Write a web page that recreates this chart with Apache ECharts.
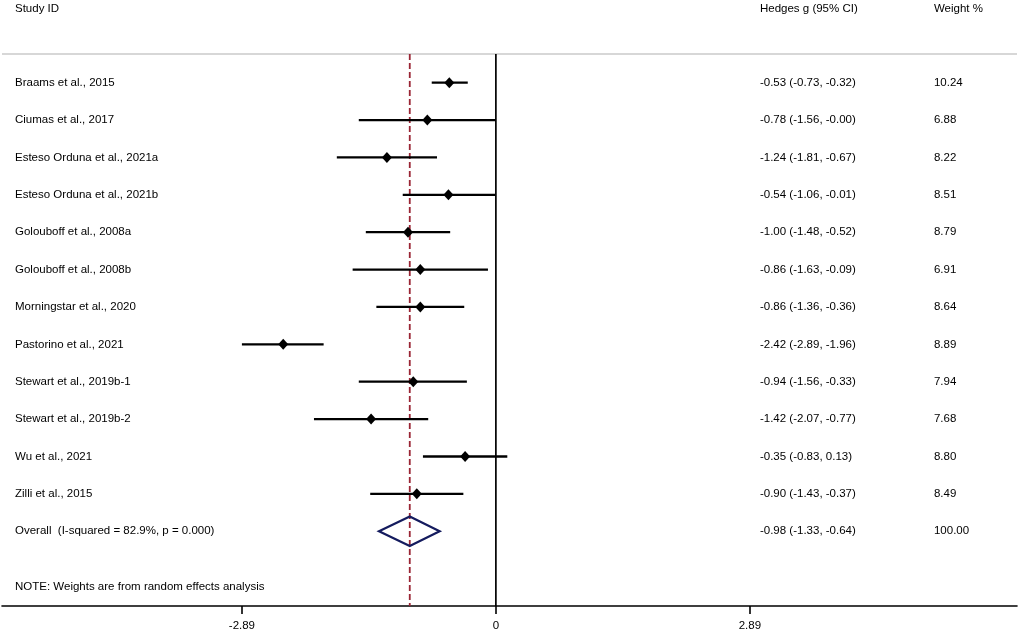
<!DOCTYPE html>
<html>
<head>
<meta charset="utf-8">
<script src="https://cdn.jsdelivr.net/npm/echarts@6/dist/echarts.min.js"></script>
<style>
html,body{margin:0;padding:0;background:#fff;}
#chart{width:1021px;height:635px;}
</style>
</head>
<body>
<div id="chart"></div>
<script>
// ---- data ----
const studies = [
  'Braams et al., 2015',
  'Ciumas et al., 2017',
  'Esteso Orduna et al., 2021a',
  'Esteso Orduna et al., 2021b',
  'Golouboff et al., 2008a',
  'Golouboff et al., 2008b',
  'Morningstar et al., 2020',
  'Pastorino et al., 2021',
  'Stewart et al., 2019b-1',
  'Stewart et al., 2019b-2',
  'Wu et al., 2021',
  'Zilli et al., 2015'
];
const effect = [-0.53, -0.78, -1.24, -0.54, -1.00, -0.86, -0.86, -2.42, -0.94, -1.42, -0.35, -0.90];
const lower  = [-0.73, -1.56, -1.81, -1.06, -1.48, -1.63, -1.36, -2.89, -1.56, -2.07, -0.83, -1.43];
const upper  = [-0.32, -0.00, -0.67, -0.01, -0.52, -0.09, -0.36, -1.96, -0.33, -0.77,  0.13, -0.37];
const weights = ['10.24', '6.88', '8.22', '8.51', '8.79', '6.91', '8.64', '8.89', '7.94', '7.68', '8.80', '8.49'];
const overallLabel = 'Overall  (I-squared = 82.9%, p = 0.000)';
const overallValues = [-0.98, -1.33, -0.64]; // estimate, lower, upper
const overallWeight = '100.00';
const noteText = 'NOTE: Weights are from random effects analysis';
const headers = ['Study ID', 'Hedges g (95% CI)', 'Weight %'];
const tickValues = [-2.89, 0, 2.89];

// ---- helpers ----
function f2(v) {
  if (Object.is(v, -0)) return '-0.00';
  return v.toFixed(2);
}
const n = studies.length;
const rows = studies.map((s, i) => i + 1);
const overallRow = n + 1;
const noteRow = n + 2.49;
const headerRow = -0.985;
const sepRow = 0.233;
const axisEndRow = 15;

const xStudy = -5.472, xCI = 3.005, xW = 4.985;
const FONT = 'Liberation Sans, Arial, Helvetica, sans-serif';
const textStyle = {show: true, position: 'right', distance: 0, color: '#000', opacity: 1, fontSize: 11.5, fontFamily: FONT, formatter: p => p.data[2]};

const textData = [];
headers.forEach((h, j) => textData.push([[xStudy, xCI, xW][j], headerRow, h]));
studies.forEach((s, i) => {
  textData.push([xStudy, rows[i], s]);
  textData.push([xCI, rows[i], f2(effect[i]) + ' (' + f2(lower[i]) + ', ' + f2(upper[i]) + ')']);
  textData.push([xW, rows[i], weights[i]]);
});
textData.push([xStudy, overallRow, overallLabel]);
textData.push([xCI, overallRow, f2(overallValues[0]) + ' (' + f2(overallValues[1]) + ', ' + f2(overallValues[2]) + ')']);
textData.push([xW, overallRow, overallWeight]);
textData.push([xStudy, noteRow, noteText]);

const chart = echarts.init(document.getElementById('chart'), null, {renderer: 'canvas'});
const option = {
  backgroundColor: '#fff',
  animation: false,
  grid: {left: 2, right: 4, top: 0.45, bottom: 29, containLabel: false},
  xAxis: {
    type: 'value', min: -5.62, max: 5.93,
    splitLine: {show: false},
    axisLine: {show: true, onZero: false, lineStyle: {color: '#000', width: 1.6}},
    axisTick: {show: true, length: 8, inside: false, customValues: tickValues, lineStyle: {color: '#000', width: 1.6}},
    axisLabel: {show: true, customValues: tickValues, margin: 14, color: '#000', fontSize: 11.5, fontFamily: FONT,
      formatter: v => (v === 0 ? '0' : v.toFixed(2))}
  },
  yAxis: {
    type: 'value', inverse: true, min: -1.2, max: 15,
    show: false, splitLine: {show: false}
  },
  series: [
    { // header separator
      type: 'line', data: [[-5.62, sepRow], [5.93, sepRow]], symbol: 'none', silent: true,
      lineStyle: {color: '#b0b0b0', width: 1.2}, z: 1
    },
    { // zero line
      type: 'line', data: [[0, sepRow], [0, axisEndRow]], symbol: 'none', silent: true,
      lineStyle: {color: '#000', width: 1.7}, z: 2
    },
    { // overall effect dashed line
      type: 'line', data: [[overallValues[0], sepRow], [overallValues[0], axisEndRow]], symbol: 'none', silent: true,
      lineStyle: {color: '#9a2535', width: 1.8, type: [6, 3]}, z: 3
    },
    { // CI lines
      type: 'custom', z: 4,
      data: studies.map((s, i) => [lower[i], upper[i], rows[i]]),
      renderItem: (params, api) => {
        const a = api.coord([api.value(0), api.value(2)]);
        const b = api.coord([api.value(1), api.value(2)]);
        return {type: 'line', shape: {x1: a[0], y1: a[1], x2: b[0], y2: b[1]},
          style: {stroke: '#000', lineWidth: 2.3}};
      }
    },
    { // point estimates
      type: 'scatter', z: 5, symbol: 'diamond', symbolSize: [10, 11],
      itemStyle: {color: '#000', opacity: 1},
      data: studies.map((s, i) => [effect[i], rows[i]])
    },
    { // overall diamond
      type: 'custom', z: 6,
      data: [[overallValues[0], overallValues[1], overallValues[2], overallRow]],
      renderItem: (params, api) => {
        const c = api.coord([api.value(0), api.value(3)]);
        const l = api.coord([api.value(1), api.value(3)]);
        const r = api.coord([api.value(2), api.value(3)]);
        const h = 14.7;
        return {type: 'polygon', shape: {points: [[l[0], c[1]], [c[0], c[1] - h], [r[0], c[1]], [c[0], c[1] + h]]},
          style: {fill: 'none', stroke: '#141b5e', lineWidth: 2.2}};
      }
    },
    { // texts
      type: 'scatter', z: 7, symbolSize: 0, silent: true, clip: false,
      itemStyle: {opacity: 1},
      data: textData,
      label: textStyle
    }
  ]
};
chart.setOption(option);
</script>
</body>
</html>
